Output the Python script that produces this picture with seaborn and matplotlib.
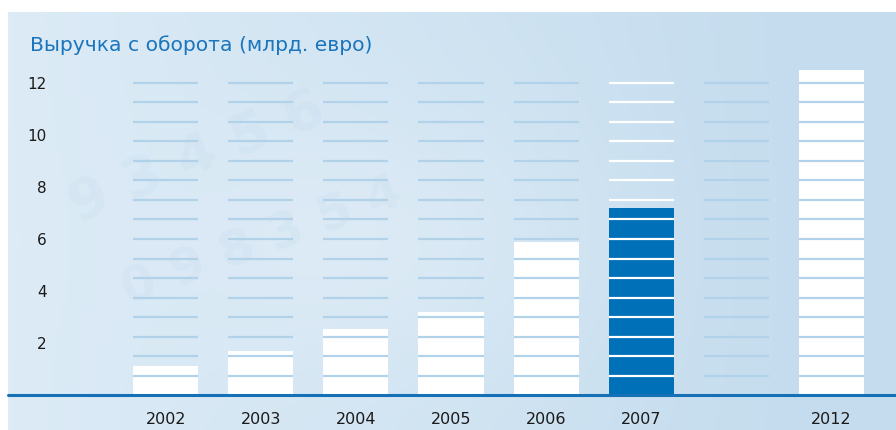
import numpy as np
import pandas as pd
import matplotlib
matplotlib.use("Agg")
import matplotlib.pyplot as plt
import seaborn as sns

# data
years = ['2002', '2003', '2004', '2005', '2006', '2007', '2012']
revenue = [1.1, 1.7, 2.55, 3.2, 5.9, 7.2, 12.5]
slots = ['2002', '2003', '2004', '2005', '2006', '2007', '', '2012']
highlight = '2007'
ytick_vals = [2, 4, 6, 8, 10, 12]
title = 'Выручка с оборота (млрд. евро)'
stripe_step = 0.75
stripe_top = 12.0

W, H = 896, 430
blue = '#0070b8'
stripe_col = '#b2d2ea'

sns.set_style("white")
plt.rcParams['font.family'] = ['DejaVu Sans']

df = pd.DataFrame({'year': years, 'value': revenue})

fig = plt.figure(figsize=(W / 100, H / 100), dpi=100)
fig.patch.set_facecolor('white')

# background panel with soft gradient
bg = fig.add_axes([8 / W, 0, 1 - 8 / W, 418 / H], zorder=0)
gx, gy = np.meshgrid(np.linspace(0, 1, 200), np.linspace(0, 1, 100))
left_c = np.array([0xdc, 0xeb, 0xf6]) / 255
right_c = np.array([0xc4, 0xdc, 0xee]) / 255
t = np.clip(gx * 1.1, 0, 1)[..., None]
img = left_c * (1 - t) + right_c * t
blob = np.exp(-(((gx - 0.4) / 0.25) ** 2 + ((gy - 0.55) / 0.35) ** 2))[..., None]
img = img + (np.array([0xe2, 0xee, 0xf7]) / 255 - img) * blob * 0.6
bg.imshow(img, aspect='auto', extent=[0, 1, 0, 1], origin='upper')
# faint watermark digits
for txt, x, y, r, s in [('9 3 4 5 6', 0.06, 0.50, 22, 40),
                        ('0 9 8 3 5 4', 0.12, 0.30, 20, 36)]:
    bg.text(x, y, txt, fontsize=s, rotation=r, color='#8fb8da', alpha=0.07,
            transform=bg.transAxes, fontweight='bold')
bg.set_xlim(0, 1)
bg.set_ylim(0, 1)
bg.axis('off')

# main chart
ax = fig.add_axes([8 / W, (H - 395) / H, 1 - 8 / W, (395 - 12) / H], zorder=1)
ax.patch.set_alpha(0)
bar_w = 65 / 95
palette = {y: (blue if y == highlight else 'white') for y in years}
sns.barplot(data=df, x='year', y='value', hue='year', order=slots,
            palette=palette, width=bar_w, saturation=1, legend=False,
            linewidth=0, ax=ax, zorder=2)

levels = np.arange(stripe_step, stripe_top + 1e-9, stripe_step)
for i, s in enumerate(slots):
    col = 'white' if s == highlight else stripe_col
    ax.hlines(levels, i - bar_w / 2, i + bar_w / 2, color=col, lw=1.6, zorder=3)

ax.axhline(0, color='#1670b6', lw=2.2, zorder=4, clip_on=False)

ax.set_xlim(-157.5 / 95, 7 + 64.5 / 95)
ax.set_ylim(0, 383 / 26)
ax.set_yticks(ytick_vals)
ax.set_yticklabels([str(v) for v in ytick_vals])
ax.set_xticks(range(len(slots)))
ax.set_xticklabels(slots)
ax.tick_params(axis='y', length=0, pad=-28, labelsize=11, labelcolor='#1a1a1a')
ax.tick_params(axis='x', length=0, pad=12, labelsize=11.5, labelcolor='#1a1a1a')
ax.set_xlabel('')
ax.set_ylabel('')
for sp in ax.spines.values():
    sp.set_visible(False)

fig.text(30 / W, 1 - 45 / H, title, va='center', ha='left',
         color='#1a75bc', fontsize=14.6)

plt.savefig('out.png', dpi=100)
